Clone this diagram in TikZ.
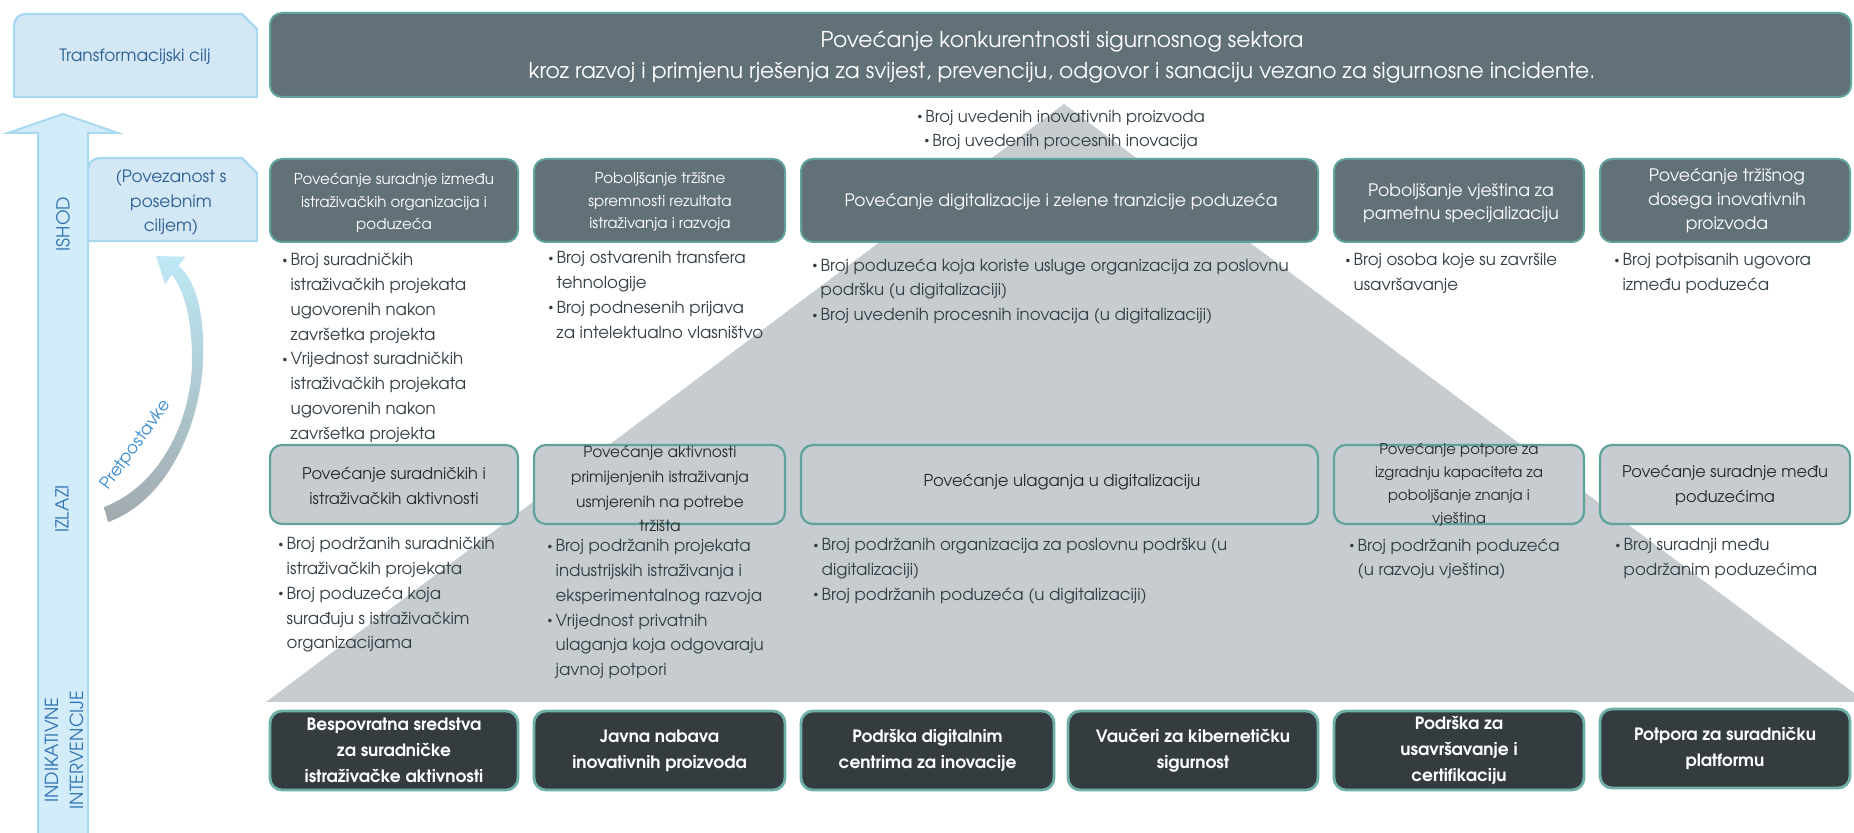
\documentclass[tikz,border=0pt]{standalone}
\usepackage{fontspec}
\setmainfont{TeX Gyre Adventor}
\usetikzlibrary{fit}
\definecolor{cSlate}{HTML}{627178}
\definecolor{cTeal}{HTML}{5FA39C}
\definecolor{cTealL}{HTML}{6EAFA8}
\definecolor{cDark}{HTML}{343C40}
\definecolor{cGrey}{HTML}{C6CCCF}
\definecolor{cTri}{HTML}{C6CCCF}
\definecolor{cLB}{HTML}{D3E7F5}
\definecolor{cLBd}{HTML}{A9D9F1}
\definecolor{cShaft}{HTML}{D3ECF9}
\definecolor{cBlueT}{HTML}{2B5F93}
\definecolor{cAxis}{HTML}{2F72B3}
\definecolor{cPret}{HTML}{3A8CD4}
\definecolor{cBul}{HTML}{333F45}
\definecolor{cTxt}{HTML}{262B2E}
\newcommand\fs[2]{\fontsize{#1}{#2}\selectfont}
\newcommand\bu{\makebox[0.5em][l]{\raisebox{0.16em}{\scalebox{0.6}{\textbullet}}}}
\newcommand\ind{\hspace*{0.5em}}
\begin{document}
\begin{tikzpicture}[x=0.5pt,y=-0.5pt,
  box/.style={inner sep=0pt, rounded corners=6pt},
  ishodbox/.style={box, fill=cSlate, draw=cTeal, line width=1pt},
  izlbox/.style={box, fill=cGrey, draw=cTeal, line width=1.1pt},
  intbox/.style={box, fill=cDark, draw=cTealL, line width=1.4pt},
  txt/.style={inner sep=0pt, align=center},
  wtxt/.style={txt, text=white},
  otxt/.style={txt, text=cTxt},
  btxt/.style={txt, text=white, font=\bfseries\fs{8.5}{13}},
  bul/.style={inner sep=0pt, anchor=north west, align=left, text=cBul, font=\fs{8.3}{12.4}},
  axis/.style={inner sep=0pt, text=cAxis, rotate=90, align=center, font=\fs{9}{12.5}},
]
\useasboundingbox (0,0) rectangle (1854,833);
\fill[white] (0,0) rectangle (1854,833);

% pyramid
\fill[cTri] (1064,104) -- (266,702) -- (1866,702) -- cycle;

% left axis arrow
\path[fill=cShaft, draw=cLBd, line width=1pt] (38,840) -- (38,133) -- (8,133) -- (63,114) -- (118,133) -- (88,133) -- (88,840) -- cycle;

% Transformacijski cilj box
\path[fill=cLB, draw=cLBd, line width=1.2pt] (14,97) -- (14,26) .. controls (14,19) and (19,14) .. (26,14) -- (242,14) -- (257,29) -- (257,97) -- cycle;
\node[txt, text=cBlueT, font=\fs{8.5}{12}] (tc) at (135,57) {Transformacijski cilj};

% Povezanost box
\path[fill=cLB, draw=cLBd, line width=1.2pt] (88,241) -- (88,170) .. controls (88,163) and (93,158) .. (100,158) -- (242,158) -- (257,173) -- (257,241) -- cycle;
\node[txt, text=cBlueT, font=\fs{8.5}{12.2}] (pv) at (171,203) {(Povezanost s\\posebnim\\ciljem)};

% axis labels
\node[axis] (lish) at (63,224) {ISHOD};
\node[axis] (lizl) at (62,509) {IZLAZI};
\node[axis] (lint) at (64,750) {INDIKATIVNE\\INTERVENCIJE};

% Pretpostavke curved arrow
\shade[top color=cLB!90!cyan, middle color=cLB!70!cSlate!60, bottom color=cSlate!60]
  (156,256) -- (185.4,256.8) -- (178.5,266) .. controls (194,278) and (205,310) .. (203,360)
  .. controls (201,420) and (170,500) .. (108,522) -- (104,507)
  .. controls (160,486) and (192,420) .. (192,360) .. controls (192,318) and (184,290) .. (171.9,274.8)
  -- (165,284) -- cycle;
\node[inner sep=0pt, text=cPret, rotate=54, font=\fs{8.5}{10}] (pret) at (136,445) {Pretpostavke};

% goal
\node[ishodbox, fit={(270,13) (1851,97)}] (g) {};
\node[wtxt, font=\fs{10.9}{15.5}] (gt) at (1062,57) {Povećanje konkurentnosti sigurnosnog sektora\\kroz razvoj i primjenu rješenja za svijest, prevenciju, odgovor i sanaciju vezano za sigurnosne incidente.};
\node[txt, text=cBul, font=\fs{8.2}{12}] (gb) at (1061,130) {\bu Broj uvedenih inovativnih proizvoda\\\bu Broj uvedenih procesnih inovacija};

% ISHOD row
\node[ishodbox, fit={(270,159) (518,242)}] (i1) {};
\node[ishodbox, fit={(534,159) (785,242)}] (i2) {};
\node[ishodbox, fit={(801,159) (1318,242)}] (i3) {};
\node[ishodbox, fit={(1334,159) (1584,242)}] (i4) {};
\node[ishodbox, fit={(1600,159) (1850,242)}] (i5) {};
\node[wtxt, font=\fs{7.5}{11.3}] (ti1) at (394,203) {Povećanje suradnje između\\istraživačkih organizacija i\\poduzeća};
\node[wtxt, font=\fs{7.5}{11.3}] (ti2) at (660,202) {Poboljšanje tržišne\\spremnosti rezultata\\istraživanja i razvoja};
\node[wtxt, font=\fs{8.6}{12}] (ti3) at (1061,202) {Povećanje digitalizacije i zelene tranzicije poduzeća};
\node[wtxt, font=\fs{8.6}{11.5}] (ti4) at (1461,203) {Poboljšanje vještina za\\pametnu specijalizaciju};
\node[wtxt, font=\fs{8.6}{12}] (ti5) at (1727,201) {Povećanje tržišnog\\dosega inovativnih\\proizvoda};

% ISHOD indicators
\node[bul] (bi1) at (282,253) {\bu Broj suradničkih\\\ind istraživačkih projekata\\\ind ugovorenih nakon\\\ind završetka projekta\\\bu Vrijednost suradničkih\\\ind istraživačkih projekata\\\ind ugovorenih nakon\\\ind završetka projekta};
\node[bul] (bi2) at (548,251) {\bu Broj ostvarenih transfera\\\ind tehnologije\\\bu Broj podnesenih prijava\\\ind za intelektualno vlasništvo};
\node[bul] (bi3) at (812,258) {\bu Broj poduzeća koja koriste usluge organizacija za poslovnu\\\ind podršku (u digitalizaciji)\\\bu Broj uvedenih procesnih inovacija (u digitalizaciji)};
\node[bul] (bi4) at (1345,253) {\bu Broj osoba koje su završile\\\ind usavršavanje};
\node[bul] (bi5) at (1614,253) {\bu Broj potpisanih ugovora\\\ind između poduzeća};

% IZLAZI row
\node[izlbox, fit={(270,445) (518,524)}] (o1) {};
\node[izlbox, fit={(534,445) (785,524)}] (o2) {};
\node[izlbox, fit={(801,445) (1318,524)}] (o3) {};
\node[izlbox, fit={(1334,445) (1584,524)}] (o4) {};
\node[izlbox, fit={(1600,445) (1850,524)}] (o5) {};
\node[otxt, font=\fs{8.1}{12.6}] (to1) at (394,486) {Povećanje suradničkih i\\istraživačkih aktivnosti};
\node[otxt, font=\fs{7.7}{12.3}] (to2) at (660,489) {Povećanje aktivnosti\\primijenjenih istraživanja\\usmjerenih na potrebe\\tržišta};
\node[otxt, font=\fs{8.2}{12}] (to3) at (1062,482) {Povećanje ulaganja u digitalizaciju};
\node[otxt, font=\fs{7.4}{11.5}] (to4) at (1459,485) {Povećanje potpore za\\izgradnju kapaciteta za\\poboljšanje znanja i\\vještina};
\node[otxt, font=\fs{8.1}{12.5}] (to5) at (1725,485) {Povećanje suradnje među\\poduzećima};

% IZLAZI indicators
\node[bul] (bo1) at (278,537) {\bu Broj podržanih suradničkih\\\ind istraživačkih projekata\\\bu Broj poduzeća koja\\\ind surađuju s istraživačkim\\\ind organizacijama};
\node[bul] (bo2) at (547,539) {\bu Broj podržanih projekata\\\ind industrijskih istraživanja i\\\ind eksperimentalnog razvoja\\\bu Vrijednost privatnih\\\ind ulaganja koja odgovaraju\\\ind javnoj potpori};
\node[bul] (bo3) at (813,538) {\bu Broj podržanih organizacija za poslovnu podršku (u\\\ind digitalizaciji)\\\bu Broj podržanih poduzeća (u digitalizaciji)};
\node[bul] (bo4) at (1349,538) {\bu Broj podržanih poduzeća\\\ind (u razvoju vještina)};
\node[bul] (bo5) at (1615,538) {\bu Broj suradnji među\\\ind podržanim poduzećima};

% INTERVENCIJE row
\node[intbox, fit={(270,711) (518,790)}] (v1) {};
\node[intbox, fit={(534,711) (785,790)}] (v2) {};
\node[intbox, fit={(801,711) (1054,790)}] (v3) {};
\node[intbox, fit={(1068,711) (1318,790)}] (v4) {};
\node[intbox, fit={(1334,711) (1584,790)}] (v5) {};
\node[intbox, fit={(1600,709) (1850,788)}] (v6) {};
\node[btxt] (tv1) at (v1.center) {Bespovratna sredstva\\za suradničke\\istraživačke aktivnosti};
\node[btxt] (tv2) at (v2.center) {Javna nabava\\inovativnih proizvoda};
\node[btxt] (tv3) at (v3.center) {Podrška digitalnim\\centrima za inovacije};
\node[btxt] (tv4) at (v4.center) {Vaučeri za kibernetičku\\sigurnost};
\node[btxt] (tv5) at (v5.center) {Podrška za\\usavršavanje i\\certifikaciju};
\node[btxt] (tv6) at (v6.center) {Potpora za suradničku\\platformu};
\end{tikzpicture}
\end{document}
